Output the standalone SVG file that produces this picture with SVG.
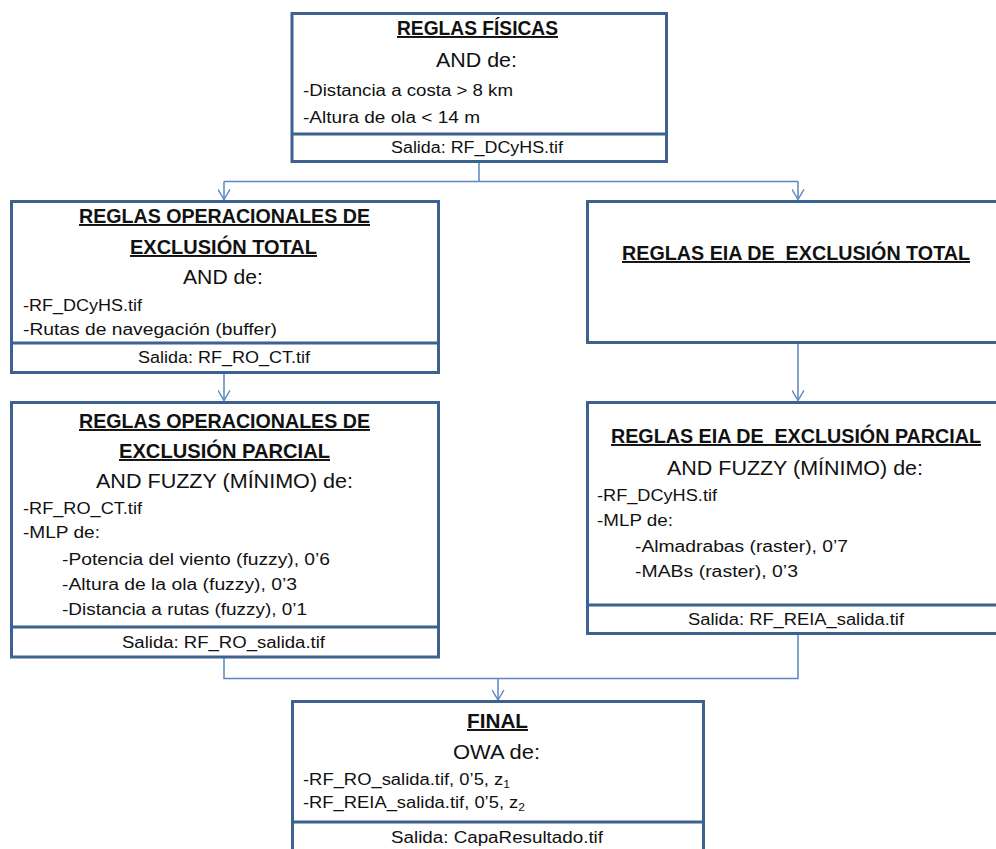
<svg xmlns="http://www.w3.org/2000/svg" width="996" height="849" viewBox="0 0 996 849">
  <style>
    .box { fill: #ffffff; stroke: #3d6190; stroke-width: 3; }
    .div { stroke: #3d6190; stroke-width: 3; fill: none; }
    .edge { fill: none; stroke: #5a86c1; stroke-width: 1.5; }
    text { font-family: "Liberation Sans", Arial, sans-serif; fill: #111111; }
    .t { font-size: 19.5px; font-weight: bold; text-decoration: underline; white-space: pre; }
    .s { font-size: 19.5px; }
    .b { font-size: 16px; }
    .sub { font-size: 10.5px; }
  </style>
  <defs>
    <marker id="arrow" viewBox="0 0 12 14" refX="11" refY="7" markerWidth="11" markerHeight="13" markerUnits="userSpaceOnUse" orient="auto">
      <path d="M0,0.5 L11,7 L0,13.5" fill="none" stroke="#5a86c1" stroke-width="1.5"/>
    </marker>
  </defs>

  <!-- connectors -->
  <g id="connectors">
    <path class="edge" d="M479,163 V181.5 M224,181.5 H798"/>
    <path class="edge" d="M224,181.5 V199.5" marker-end="url(#arrow)"/>
    <path class="edge" d="M798,181.5 V199.5" marker-end="url(#arrow)"/>
    <path class="edge" d="M224,373.5 V400.5" marker-end="url(#arrow)"/>
    <path class="edge" d="M798,343.5 V400.5" marker-end="url(#arrow)"/>
    <path class="edge" d="M224,658 V678.5 H798 V634.5"/>
    <path class="edge" d="M498,678.5 V700" marker-end="url(#arrow)"/>
  </g>

  <!-- physical rules -->
  <g id="reglas-fisicas">
    <rect class="box" x="292" y="13.5" width="374.5" height="148"/>
    <line class="div" x1="292" y1="134" x2="666.5" y2="134"/>
    <text class="t" x="397" y="35" textLength="161" lengthAdjust="spacingAndGlyphs">REGLAS FÍSICAS</text>
    <text class="s" x="436" y="67" textLength="81" lengthAdjust="spacingAndGlyphs">AND de:</text>
    <text class="b" x="303" y="96" textLength="210" lengthAdjust="spacingAndGlyphs">-Distancia a costa &gt; 8 km</text>
    <text class="b" x="303" y="123" textLength="177" lengthAdjust="spacingAndGlyphs">-Altura de ola &lt; 14 m</text>
    <text class="b" x="391" y="153" textLength="172" lengthAdjust="spacingAndGlyphs">Salida: RF_DCyHS.tif</text>
  </g>

  <!-- operational rules, total exclusion -->
  <g id="ro-exclusion-total">
    <rect class="box" x="11.5" y="201.5" width="427" height="171"/>
    <line class="div" x1="11.5" y1="343" x2="438.5" y2="343"/>
    <text class="t" x="79" y="223" textLength="291" lengthAdjust="spacingAndGlyphs">REGLAS OPERACIONALES DE</text>
    <text class="t" x="130" y="254" textLength="187" lengthAdjust="spacingAndGlyphs">EXCLUSIÓN TOTAL</text>
    <text class="s" x="183" y="284" textLength="80" lengthAdjust="spacingAndGlyphs">AND de:</text>
    <text class="b" x="23" y="311" textLength="119" lengthAdjust="spacingAndGlyphs">-RF_DCyHS.tif</text>
    <text class="b" x="23" y="335" textLength="254" lengthAdjust="spacingAndGlyphs">-Rutas de navegación (buffer)</text>
    <text class="b" x="138" y="363" textLength="172" lengthAdjust="spacingAndGlyphs">Salida: RF_RO_CT.tif</text>
  </g>

  <!-- EIA rules, total exclusion -->
  <g id="eia-exclusion-total">
    <rect class="box" x="587.5" y="201.5" width="425" height="141"/>
    <text class="t" x="622" y="260" textLength="348" lengthAdjust="spacingAndGlyphs" xml:space="preserve">REGLAS EIA DE  EXCLUSIÓN TOTAL</text>
  </g>

  <!-- operational rules, partial exclusion -->
  <g id="ro-exclusion-parcial">
    <rect class="box" x="11.5" y="402.5" width="427" height="254.5"/>
    <line class="div" x1="11.5" y1="627" x2="438.5" y2="627"/>
    <text class="t" x="79" y="428" textLength="291" lengthAdjust="spacingAndGlyphs">REGLAS OPERACIONALES DE</text>
    <text class="t" x="119" y="458" textLength="211" lengthAdjust="spacingAndGlyphs">EXCLUSIÓN PARCIAL</text>
    <text class="s" x="96" y="488" textLength="257" lengthAdjust="spacingAndGlyphs">AND FUZZY (MÍNIMO) de:</text>
    <text class="b" x="23" y="514" textLength="119" lengthAdjust="spacingAndGlyphs">-RF_RO_CT.tif</text>
    <text class="b" x="23" y="538" textLength="77" lengthAdjust="spacingAndGlyphs">-MLP de:</text>
    <text class="b" x="62" y="565" textLength="268" lengthAdjust="spacingAndGlyphs">-Potencia del viento (fuzzy), 0’6</text>
    <text class="b" x="62" y="590" textLength="235" lengthAdjust="spacingAndGlyphs">-Altura de la ola (fuzzy), 0’3</text>
    <text class="b" x="62" y="615" textLength="245" lengthAdjust="spacingAndGlyphs">-Distancia a rutas (fuzzy), 0’1</text>
    <text class="b" x="122" y="648" textLength="203" lengthAdjust="spacingAndGlyphs">Salida: RF_RO_salida.tif</text>
  </g>

  <!-- EIA rules, partial exclusion -->
  <g id="eia-exclusion-parcial">
    <rect class="box" x="587.5" y="402.5" width="425" height="231"/>
    <line class="div" x1="587.5" y1="605" x2="1012.5" y2="605"/>
    <text class="t" x="611" y="443" textLength="370" lengthAdjust="spacingAndGlyphs" xml:space="preserve">REGLAS EIA DE  EXCLUSIÓN PARCIAL</text>
    <text class="s" x="667" y="475" textLength="256" lengthAdjust="spacingAndGlyphs">AND FUZZY (MÍNIMO) de:</text>
    <text class="b" x="597" y="501" textLength="120" lengthAdjust="spacingAndGlyphs">-RF_DCyHS.tif</text>
    <text class="b" x="597" y="526" textLength="76" lengthAdjust="spacingAndGlyphs">-MLP de:</text>
    <text class="b" x="635" y="552" textLength="213" lengthAdjust="spacingAndGlyphs">-Almadrabas (raster), 0’7</text>
    <text class="b" x="635" y="577" textLength="163" lengthAdjust="spacingAndGlyphs">-MABs (raster), 0’3</text>
    <text class="b" x="688" y="625" textLength="216" lengthAdjust="spacingAndGlyphs">Salida: RF_REIA_salida.tif</text>
  </g>

  <!-- final aggregation -->
  <g id="final">
    <rect class="box" x="292.5" y="701.5" width="411" height="170"/>
    <line class="div" x1="292.5" y1="822" x2="703.5" y2="822"/>
    <text class="t" x="467" y="728" textLength="61" lengthAdjust="spacingAndGlyphs">FINAL</text>
    <text class="s" x="453" y="759" textLength="87" lengthAdjust="spacingAndGlyphs">OWA de:</text>
    <text class="b" x="303" y="785" textLength="207" lengthAdjust="spacingAndGlyphs">-RF_RO_salida.tif, 0’5, z<tspan class="sub" dy="3">1</tspan></text>
    <text class="b" x="303" y="808" textLength="222" lengthAdjust="spacingAndGlyphs">-RF_REIA_salida.tif, 0’5, z<tspan class="sub" dy="3">2</tspan></text>
    <text class="b" x="391" y="843" textLength="212" lengthAdjust="spacingAndGlyphs">Salida: CapaResultado.tif</text>
  </g>
</svg>
